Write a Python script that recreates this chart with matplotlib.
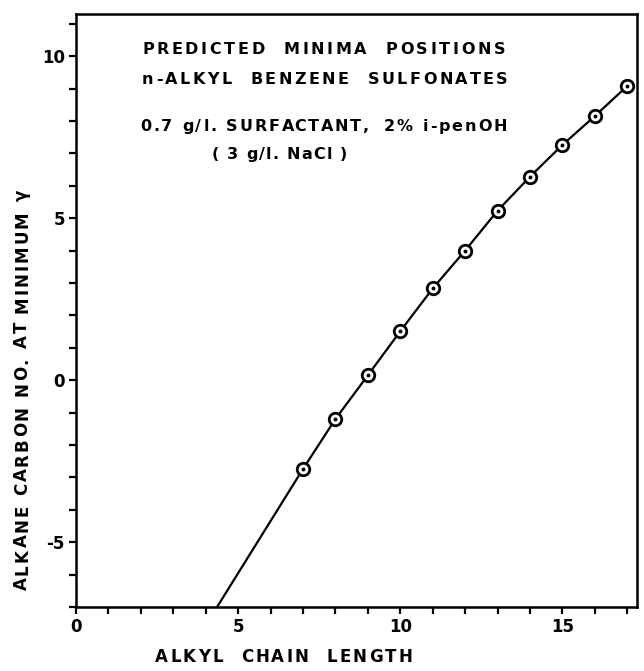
import matplotlib
matplotlib.use("Agg")
import matplotlib.pyplot as plt
from matplotlib.ticker import MultipleLocator
from matplotlib.font_manager import FontProperties

# Data
chain_length = [7, 8, 9, 10, 11, 12, 13, 14, 15, 16, 17]
alkane_min = [-2.74, -1.20, 0.15, 1.51, 2.83, 4.00, 5.23, 6.28, 7.26, 8.15, 9.08]
# extrapolated part of the curve (no markers)
ext_x = [4.35, 7]
ext_y = [-7.0, -2.74]

x_major = [0, 5, 10, 15]
x_labels = ["0", "5", "10", "15"]
y_major = [-5, 0, 5, 10]
y_labels = ["-5", "0", "5", "10"]

W, H = 644, 671
plt.rcParams['font.family'] = ['DejaVu Sans']
fig = plt.figure(figsize=(W/100, H/100), dpi=100)
ax = fig.add_axes([76/W, 1 - 607/H, (637-76)/W, (607-14)/H])

ax.plot(ext_x, ext_y, color='black', lw=1.6, solid_capstyle='butt')
ax.plot(chain_length, alkane_min, color='black', lw=1.6, marker='o', ms=9,
        mfc='white', mec='black', mew=2.0, zorder=3)
ax.plot(chain_length, alkane_min, ls='none', marker='o', ms=1.8, color='black', zorder=4)

ax.set_xlim(0, 17.3)
ax.set_ylim(-7, 11.3)
ax.set_xticks(x_major)
ax.set_xticklabels(x_labels)
ax.set_yticks(y_major)
ax.set_yticklabels(y_labels)
ax.xaxis.set_minor_locator(MultipleLocator(1))
ax.yaxis.set_minor_locator(MultipleLocator(1))
ax.tick_params(which='both', direction='out', length=5, width=1.6, labelsize=12)
ax.tick_params(axis='both', which='major', pad=3)
for lab in ax.get_xticklabels() + ax.get_yticklabels():
    lab.set_fontweight('bold')
for s in ax.spines.values():
    s.set_linewidth(1.8)

renderer = fig.canvas.get_renderer()


def natural_width(s, prop):
    if not s:
        return 0.0
    w_h = renderer.get_text_width_height_descent("H", prop, ismath=False)[0]
    w = renderer.get_text_width_height_descent(s + "H", prop, ismath=False)[0]
    return w - w_h


def spaced_text(s, start_px, end_px, pos_px, size, vertical=False):
    """Draw s with uniform letter spacing so it spans start_px..end_px (pixels)."""
    prop = FontProperties(family='DejaVu Sans', weight='bold', size=size)
    n = len(s)
    total = renderer.get_text_width_height_descent(s, prop, ismath=False)[0]
    extra = (abs(end_px - start_px) - total) / max(n - 1, 1)
    for i, ch in enumerate(s):
        if ch == ' ':
            continue
        off = natural_width(s[:i], prop) + i * extra
        if not vertical:
            fig.text((start_px + off) / W, 1 - pos_px / H, ch, fontproperties=prop,
                     ha='left', va='center_baseline')
        else:
            # text runs bottom -> top; start_px is the bottom y pixel, pos_px the baseline x
            y = start_px - off
            fig.text(pos_px / W, 1 - y / H, ch, fontproperties=prop, rotation=90,
                     ha='left', va='baseline', rotation_mode='anchor')


spaced_text("PREDICTED  MINIMA  POSITIONS", 142, 505, 48, 11.5)
spaced_text("n-ALKYL  BENZENE  SULFONATES", 142, 507, 78, 11.5)
spaced_text("0.7 g/l. SURFACTANT,  2% i-penOH", 140, 507, 125, 11.5)
spaced_text("( 3 g/l. NaCl )", 212, 347, 153, 11.5)
spaced_text("ALKYL  CHAIN  LENGTH", 155, 412, 655, 12)
spaced_text("ALKANE CARBON NO. AT MINIMUM γ", 590, 190, 27, 12, vertical=True)

fig.savefig("out.png", dpi=100)
